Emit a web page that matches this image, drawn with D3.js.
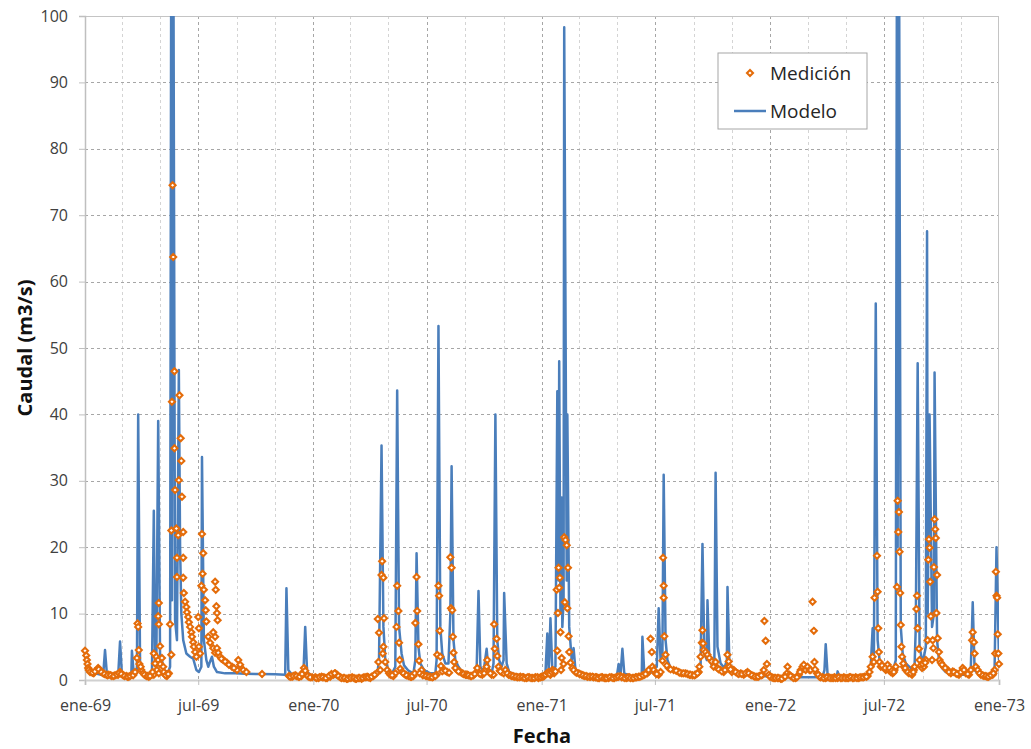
<!DOCTYPE html>
<html lang="es">
<head>
<meta charset="utf-8">
<script src="https://cdn.jsdelivr.net/npm/d3@7"></script>
<style>
  body { margin: 0; background: #fff; }
  svg { display: block; font-family: "Open Sans", sans-serif; }
</style>
</head>
<body>
<svg id="chart"></svg>
<script>
// Caudal diario (m3/s). Cada par es [día contado desde el 1-ene-1969, caudal]
const inicio = new Date(1969, 0, 1);
const fin = new Date(1973, 0, 1);

const modelo1969 = [
  [0,2.2],[5,1.6],[11,1.1],[21,0.9],[29,0.7],[32,4.5],[35,0.9],[43,0.7],[53,0.6],[56,5.8],
  [59,0.8],[67,0.6],[74,0.6],[75,4.4],[78,0.8],[83,1.0],[85,40],[88,2.5],[93,1.2],[101,0.9],
  [107,1.0],[110,25.5],[112,3.0],[114,2.0],[117,39],[120,3.5],[123,3.0],[126,1.5],[133,1.2],
  [136,2.0],[138,120],[139,12],[141,120],[144,9],[147,6],[150,46.7],[152,20],[154,10],[157,6],
  [162,4.0],[168,3.5],[173,3.2],[178,1.5],[182,1.2],[186,2.0],[187,33.6],[190,6],[194,3],
  [197,2],[200,2.8],[203,3.5],[206,2.0],[211,1.2],[224,1.0],[240,1.0],[256,0.95],[280,0.9],
  [304,0.85],[320,0.8],[322,13.8],[325,1.5],[331,0.8],[341,0.6],[349,0.6],[352,8.0],[355,1.2],
  [363,0.6]
];
const modelo1970 = [
  [365,0.6],[376,0.5],[392,0.5],[408,0.4],[424,0.4],[440,0.4],[456,0.5],[467,0.8],[470,3],
  [474,35.3],[477,8],[480,3],[485,1.5],[491,1.0],[496,2],[499,43.6],[502,8],[506,4],[510,2.2],
  [517,1.4],[525,1.0],[528,3],[530,19.1],[533,5],[536,2.5],[542,1.5],[552,1.0],[560,1.0],
  [562,3],[565,53.3],[568,8],[571,4],[576,2.5],[581,2.5],[584,10],[586,32.2],[589,6],[592,3],
  [597,2],[603,1.2],[613,0.9],[622,0.8],[626,1.5],[629,13.4],[632,2],[637,1.2],[642,4.7],
  [645,1.5],[650,1.0],[653,2.5],[656,40],[659,6],[662,3],[666,2],[669,3],[670,13.1],[674,2.5],
  [678,1.2],[688,0.8],[704,0.6],[720,0.5],[733,0.5]
];
const modelo1971 = [
  [736,1],[739,7],[741,1.5],[742,3],[744,9.3],[747,1.5],[752,2],[755,43.5],[757,15],[758,48],
  [760,10],[762,27.5],[763,8],[765,12],[766,98.3],[770,15],[771,40],[774,8],[778,3],[781,4.8],
  [784,1.5],[792,0.8],[808,0.5],[824,0.4],[840,0.4],[850,0.5],[853,2.4],[856,0.8],[859,4.7],
  [862,1.0],[872,0.6],[885,0.6],[890,1.0],[891,6.5],[894,1.0],[901,0.8],[907,1.5],[914,2],
  [917,10.8],[920,3],[923,4],[925,30.9],[928,6],[931,3],[936,1.8],[944,1.2],[960,0.8],
  [976,0.8],[984,2],[987,20.5],[990,4],[994,3],[995,12],[998,3],[1003,2],[1006,3],[1008,31.2],
  [1011,5],[1016,2.5],[1022,1.8],[1026,3],[1027,14],[1030,2.5],[1037,1.2],[1048,0.9],
  [1064,0.7],[1080,0.6],[1098,0.5]
];
const modelo1972 = [
  [1112,0.4],[1144,0.4],[1168,0.4],[1179,0.5],[1182,1.5],[1184,5.4],[1187,0.8],[1195,0.5],
  [1202,0.6],[1203,1.3],[1206,0.5],[1224,0.4],[1240,0.4],[1253,0.6],[1256,2],[1259,7.8],
  [1261,3],[1264,56.7],[1267,6],[1270,3],[1275,2],[1283,1.5],[1291,1.2],[1296,3],[1298,120],
  [1299,20],[1301,120],[1304,8],[1307,4],[1312,2.5],[1320,1.8],[1326,2],[1328,8],[1331,47.7],
  [1334,5],[1338,3],[1341,3.5],[1344,5],[1346,67.6],[1347,10],[1350,40],[1354,8],[1357,10],
  [1358,46.3],[1362,6],[1365,3],[1370,1.8],[1376,1.2],[1387,0.9],[1400,0.8],[1413,0.8],
  [1416,2],[1419,11.7],[1422,1.5],[1429,0.8],[1440,0.6],[1451,0.6],[1454,2],[1457,20],[1461,3]
];

const medicion1969 = [
  [0,4.4],[2,3.7],[3,3.0],[4,2.4],[5,1.8],[6,1.5],[10,1.2],[14,1.0],[19,1.5],[21,1.8],[24,1.5],
  [29,1.0],[34,0.8],[38,0.8],[43,0.6],[48,0.7],[53,0.8],[56,1.2],[61,0.7],[66,0.6],[70,0.5],
  [75,0.8],[78,1.0],[83,3.3],[84,8.5],[85,8.0],[86,4.5],[87,2.4],[90,1.5],[93,1.0],[98,0.6],
  [102,0.5],[107,0.8],[110,4.0],[110,0.8],[114,3.5],[115,1.5],[117,3.0],[118,11.6],[117,9.6],
  [118,8.4],[120,5.1],[118,1.0],[120,2.4],[123,3.3],[125,2.0],[128,0.8],[131,0.6],[134,1.0],
  [136,8.4],[138,3.8],[138,22.5],[139,41.9],[140,74.5],[141,63.7],[143,46.5],[143,34.9],
  [144,28.6],[146,22.8],[147,18.4],[147,15.5],[149,21.8],[150,30.1],[151,42.9],[153,36.4],
  [154,33.0],[155,27.6],[157,22.3],[157,18.4],[157,15.4],[158,13.1],[160,11.8],[162,11.0],
  [163,10.2],[165,9.5],[166,8.7],[168,8.0],[170,7.2],[171,6.5],[173,5.7],[174,5.0],[176,4.2],
  [178,3.5],[181,9.5],[182,7.8],[182,5.0],[184,4.0],[186,14.2],[187,22.0],[189,19.1],
  [188,16.0],[190,13.6],[192,12.0],[193,10.5],[194,8.8],[197,6.5],[200,5.6],[205,4.8],
  [205,7.2],[208,6.5],[208,14.8],[209,13.6],[210,11.1],[211,10.1],[212,9.0],[208,4.1],
  [211,4.8],[213,4.1],[216,3.5],[221,3.0],[227,2.6],[235,2.0],[243,1.5],[245,3.0],[248,2.3],
  [253,1.5],[258,1.2],[283,0.9],[326,0.6],[331,0.5],[336,0.7],[341,0.5],[346,0.6],[349,1.2],
  [350,1.8],[354,0.8],[358,0.5],[363,0.4],
  [8,1.2],[12,1.1],[16,1.3],[22,1.6],[26,1.2],[31,0.9],[36,0.7],[41,0.7],[46,0.6],[51,0.8],
  [54,1.0],[58,0.9],[63,0.6],[68,0.5],[72,0.6],[77,0.7],[80,1.2],[89,2.0],[95,0.8],[100,0.6],
  [104,0.6],[108,1.2],[112,2.5],[126,1.2],[129,0.7],[133,0.9],[218,3.2],[224,2.8],[230,2.3],
  [238,1.8],[328,0.5],[333,0.6],[338,0.6],[343,0.5],[347,0.9],[352,1.4],[356,0.6],[360,0.4]
];
const medicion1970 = [
  [368,0.4],[373,0.3],[378,0.5],[382,0.4],[387,0.3],[392,0.5],[397,0.8],[400,1.0],[403,0.8],
  [408,0.4],[413,0.3],[418,0.2],[422,0.3],[427,0.4],[432,0.2],[437,0.3],[442,0.2],[446,0.4],
  [451,0.5],[456,0.3],[461,0.6],[466,1.0],[469,2.7],[468,9.2],[470,7.1],[472,1.5],[474,15.8],
  [475,17.9],[476,4.0],[477,15.4],[478,9.3],[477,5.0],[480,2.7],[483,1.5],[486,1.0],[490,0.8],
  [493,0.6],[496,1.0],[498,8.0],[499,14.2],[501,10.4],[502,5.6],[503,3.0],[504,1.7],[507,1.2],
  [512,0.8],[517,0.6],[522,0.5],[525,0.6],[528,8.6],[530,15.5],[531,10.4],[533,5.4],[534,2.9],
  [538,1.5],[542,0.8],[547,0.6],[552,0.5],[557,0.5],[562,0.8],[563,3.8],[565,14.2],[566,12.7],
  [567,7.4],[568,3.5],[569,2.1],[573,1.5],[579,1.2],[584,18.5],[586,16.9],[585,10.8],
  [587,10.5],[588,6.5],[589,4.1],[590,2.7],[595,1.5],[600,1.2],[603,1.0],[608,0.8],[611,0.8],
  [616,0.6],[621,0.7],[626,1.2],[627,1.8],[630,1.0],[635,0.8],[640,1.5],[642,2.0],[643,3.0],
  [646,1.2],[650,0.8],[654,8.4],[655,4.7],[653,0.8],[658,6.2],[659,3.6],[661,2.0],[666,1.2],
  [669,1.0],[672,1.5],[677,0.8],[682,0.6],[686,0.5],[691,0.4],[696,0.5],[701,0.4],[706,0.3],
  [710,0.4],[715,0.3],[720,0.4],[725,0.3],[730,0.5],
  [370,0.3],[375,0.4],[380,0.4],[385,0.3],[390,0.6],[394,0.9],[399,1.0],[405,0.6],[410,0.3],
  [415,0.3],[420,0.2],[425,0.3],[430,0.3],[434,0.2],[439,0.3],[444,0.3],[449,0.4],[453,0.4],
  [458,0.5],[463,0.8],[488,0.8],[491,0.7],[509,1.0],[514,0.7],[520,0.5],[523,0.6],[527,1.0],
  [535,1.0],[540,0.7],[545,0.6],[550,0.5],[555,0.4],[560,0.6],[571,1.3],[576,1.4],[582,1.1],
  [592,1.8],[597,1.3],[605,0.9],[610,0.8],[613,0.7],[618,0.6],[623,0.9],[632,0.9],[638,1.0],
  [648,1.0],[663,1.4],[664,1.3],[675,1.0],[680,0.7],[684,0.6],[689,0.5],[694,0.4],[699,0.4],
  [703,0.3],[708,0.4],[713,0.3],[718,0.3],[723,0.4],[728,0.4],[732,0.5]
];
const medicion1971 = [
  [734,0.6],[738,1.0],[741,1.2],[744,0.8],[747,1.5],[750,1.0],[755,4.4],[754,13.6],[757,16.9],
  [756,10.1],[758,13.9],[759,15.4],[760,7.2],[761,1.5],[762,3.3],[765,2.4],[766,21.5],
  [767,11.7],[768,21.1],[770,20.3],[771,10.8],[772,16.9],[773,6.6],[774,4.2],[776,2.6],
  [779,1.8],[784,1.2],[789,1.0],[794,0.8],[798,0.6],[803,0.5],[808,0.5],[813,0.4],[818,0.4],
  [822,0.3],[827,0.4],[832,0.3],[837,0.3],[842,0.4],[846,0.3],[851,0.5],[856,0.6],[861,0.4],
  [866,0.3],[870,0.4],[875,0.3],[880,0.4],[885,0.5],[890,0.6],[894,0.8],[899,1.0],[901,1.5],
  [904,6.2],[906,4.2],[907,2.0],[909,1.5],[912,1.0],[917,0.8],[920,1.2],[923,2.9],[924,18.4],
  [925,14.2],[925,12.4],[926,6.6],[928,3.8],[933,1.8],[941,1.5],[949,1.2],[954,1.0],[960,1.0],
  [966,0.8],[971,0.7],[976,0.8],[981,1.2],[982,2.0],[984,3.5],[986,5.6],[987,7.5],[988,5.5],
  [989,4.5],[992,4.2],[995,3.8],[998,3.3],[1002,2.8],[1005,2.0],[1008,2.7],[1011,1.8],
  [1016,1.5],[1021,1.2],[1026,1.8],[1027,3.8],[1029,2.8],[1030,2.0],[1034,1.2],[1037,1.5],
  [1043,1.0],[1048,1.0],[1053,0.8],[1059,1.2],[1064,0.8],[1069,0.6],[1074,0.5],[1078,0.6],
  [1083,0.8],[1085,1.5],[1086,8.9],[1088,5.9],[1090,2.4],[1093,0.8],[1098,0.4],
  [736,0.8],[740,1.0],[743,0.9],[746,1.2],[749,1.4],[752,1.3],[781,1.5],[786,1.1],[791,0.9],
  [796,0.7],[801,0.6],[806,0.5],[811,0.5],[816,0.4],[820,0.3],[825,0.4],[830,0.3],[834,0.3],
  [839,0.4],[844,0.3],[849,0.4],[853,0.5],[858,0.4],[863,0.3],[868,0.4],[872,0.3],[877,0.3],
  [882,0.4],[887,0.5],[892,0.7],[896,0.9],[914,0.9],[930,2.2],[936,1.6],[945,1.4],[951,1.1],
  [957,1.0],[963,0.9],[968,0.8],[974,0.7],[979,1.0],[1013,1.6],[1018,1.3],[1023,1.5],
  [1032,1.6],[1040,1.2],[1045,0.9],[1050,0.9],[1056,1.0],[1061,1.0],[1066,0.7],[1071,0.5],
  [1076,0.5],[1081,0.7],[1095,0.5]
];
const medicion1972 = [
  [1102,0.3],[1107,0.3],[1112,0.2],[1117,0.4],[1122,1.0],[1123,2.0],[1126,0.8],[1131,0.4],
  [1136,0.3],[1141,0.8],[1144,1.5],[1147,2.0],[1149,2.3],[1152,1.5],[1155,2.0],[1158,1.5],
  [1160,1.5],[1163,11.8],[1165,7.4],[1166,2.7],[1170,1.0],[1174,0.5],[1179,0.4],[1184,0.3],
  [1189,0.4],[1194,0.3],[1198,0.4],[1203,0.3],[1208,0.3],[1213,0.4],[1218,0.3],[1222,0.4],
  [1227,0.3],[1232,0.4],[1237,0.3],[1242,0.4],[1246,0.5],[1251,0.6],[1254,1.2],[1256,2.0],
  [1259,3.5],[1261,2.7],[1262,12.4],[1266,18.7],[1267,13.3],[1268,7.8],[1269,4.2],[1270,2.7],
  [1272,2.0],[1277,2.0],[1280,1.5],[1283,2.3],[1285,1.5],[1288,1.2],[1291,1.0],[1294,1.5],
  [1296,2.0],[1298,14.0],[1299,27.0],[1300,22.3],[1301,25.3],[1302,19.3],[1303,13.1],
  [1304,8.3],[1305,5.0],[1306,3.5],[1309,2.0],[1312,1.5],[1317,1.0],[1322,0.8],[1325,1.5],
  [1326,2.0],[1330,12.7],[1329,10.7],[1331,7.8],[1333,4.7],[1334,3.0],[1336,2.2],[1338,1.8],
  [1341,2.0],[1344,3.0],[1347,6.0],[1349,21.2],[1348,18.1],[1350,19.9],[1351,14.8],[1352,9.6],
  [1355,6.0],[1356,4.8],[1354,3.0],[1357,17.0],[1358,24.2],[1359,22.7],[1360,21.4],[1362,15.8],
  [1361,10.1],[1363,6.3],[1365,4.2],[1366,3.0],[1368,2.6],[1373,2.0],[1379,1.5],[1384,1.0],
  [1387,1.3],[1392,1.0],[1397,0.8],[1403,1.8],[1408,1.0],[1413,0.8],[1416,1.5],[1419,7.2],
  [1418,6.0],[1421,5.7],[1422,4.0],[1424,2.0],[1427,1.5],[1432,0.8],[1437,0.6],[1442,0.5],
  [1446,0.6],[1451,0.8],[1454,1.5],[1455,4.0],[1456,16.3],[1457,12.7],[1458,12.4],[1459,6.9],
  [1460,4.0],[1461,2.4],
  [1100,0.3],[1104,0.3],[1109,0.3],[1114,0.2],[1119,0.5],[1128,0.6],[1133,0.3],[1138,0.4],
  [1143,1.2],[1167,1.6],[1172,0.8],[1176,0.4],[1181,0.3],[1186,0.4],[1191,0.3],[1196,0.3],
  [1200,0.3],[1205,0.4],[1210,0.3],[1215,0.3],[1220,0.3],[1224,0.4],[1229,0.3],[1234,0.3],
  [1239,0.4],[1244,0.4],[1249,0.5],[1274,2.2],[1279,1.8],[1286,1.8],[1290,1.4],[1293,1.2],
  [1308,2.5],[1311,1.8],[1315,1.2],[1320,1.0],[1324,1.2],[1339,2.4],[1343,2.6],[1370,2.3],
  [1375,1.8],[1381,1.2],[1389,1.2],[1394,0.9],[1400,1.2],[1405,1.5],[1411,0.9],[1430,1.0],
  [1435,0.7],[1440,0.6],[1444,0.5],[1448,0.7],[1452,1.0]
];

const yTicks = [0, 10, 20, 30, 40, 50, 60, 70, 80, 90, 100];
const meses = ['ene','feb','mar','abr','may','jun','jul','ago','sep','oct','nov','dic'];

const modelo = [...modelo1969, ...modelo1970, ...modelo1971, ...modelo1972];
const medicion = [...medicion1969, ...medicion1970, ...medicion1971, ...medicion1972];

const config = {
  width: 1031, height: 749,
  margin: {top: 16, right: 32, bottom: 69, left: 85},
  azul: '#4a7ebb', naranja: '#e46c0a'
};
const width = config.width - config.margin.left - config.margin.right;
const height = config.height - config.margin.top - config.margin.bottom;

const svg = d3.select('#chart')
    .attr('width', config.width)
    .attr('height', config.height);

const chart = svg.append('g')
    .attr('transform', `translate(${config.margin.left},${config.margin.top})`);

const fecha = d => d3.timeDay.offset(inicio, d[0]);

const xScale = d3.scaleTime().domain([inicio, fin]).range([0, width]);
const yScale = d3.scaleLinear().domain([0, 100]).range([height, 0]);

chart.append('defs').append('clipPath').attr('id', 'area-grafico')
  .append('rect').attr('width', width).attr('height', height);

// rejilla vertical: cada 2 meses, más oscura cada 6
const mesesGrid = d3.timeMonth.every(2).range(inicio, fin).filter(d => +d !== +inicio);
chart.append('g').selectAll('line')
  .data(mesesGrid)
  .join('line')
    .attr('x1', d => Math.round(xScale(d)) + 0.5)
    .attr('x2', d => Math.round(xScale(d)) + 0.5)
    .attr('y1', 0).attr('y2', height)
    .attr('stroke', d => d.getMonth() % 6 === 0 ? '#a6a6a6' : '#d4d4d4')
    .attr('stroke-dasharray', '3,3');

// rejilla horizontal
chart.append('g').selectAll('line')
  .data(yTicks.filter(v => v > 0 && v < 100))
  .join('line')
    .attr('x1', 0).attr('x2', width)
    .attr('y1', d => Math.round(yScale(d)) + 0.5)
    .attr('y2', d => Math.round(yScale(d)) + 0.5)
    .attr('stroke', '#a6a6a6')
    .attr('stroke-dasharray', '3,3');

// marco del área de trazado
chart.append('line').attr('x1', 0).attr('x2', width).attr('y1', 0.5).attr('y2', 0.5)
  .attr('stroke', '#c4c4c4');
chart.append('line').attr('x1', width - 0.5).attr('x2', width - 0.5).attr('y1', 0).attr('y2', height)
  .attr('stroke', '#c4c4c4');

// ejes
const yAxis = d3.axisLeft(yScale).tickValues(yTicks).tickSize(6).tickPadding(11);
const gy = chart.append('g').call(yAxis);
gy.select('.domain').attr('stroke', '#bfbfbf').attr('stroke-width', 1.5);
gy.selectAll('.tick line').attr('stroke', '#bfbfbf');
gy.selectAll('.tick text').attr('fill', '#404040')
  .attr('font-size', '16px').attr('font-family', '"Open Sans", sans-serif');

const xAxis = d3.axisBottom(xScale)
  .tickValues(d3.timeMonth.every(6).range(inicio, d3.timeDay.offset(fin, 1)))
  .tickFormat(d => `${meses[d.getMonth()]}-${String(d.getFullYear()).slice(2)}`)
  .tickSize(5).tickPadding(15);
const gx = chart.append('g').attr('transform', `translate(0,${height})`).call(xAxis);
gx.select('.domain').attr('stroke', '#d0d0d0').attr('stroke-width', 2);
gx.selectAll('.tick line').attr('stroke', '#bfbfbf');
gx.selectAll('.tick text').attr('fill', '#404040')
  .attr('font-size', '16px').attr('font-family', '"Open Sans", sans-serif');

// series
const datos = chart.append('g').attr('clip-path', 'url(#area-grafico)');

const linea = d3.line()
  .x(d => xScale(fecha(d)))
  .y(d => yScale(d[1]));

datos.append('path')
  .datum(modelo)
  .attr('fill', 'none')
  .attr('stroke', config.azul)
  .attr('stroke-width', 2.5)
  .attr('stroke-linejoin', 'round')
  .attr('d', linea);

const rombo = r => `M0,${-r}L${r},0L0,${r}L${-r},0Z`;

chart.append('g').selectAll('path')
  .data(medicion)
  .join('path')
    .attr('transform', d => `translate(${xScale(fecha(d))},${yScale(d[1])})`)
    .attr('d', rombo(3.0))
    .attr('fill', '#fff')
    .attr('stroke', config.naranja)
    .attr('stroke-width', 2.1);

// títulos de ejes
svg.append('text')
  .attr('transform', `translate(32,${config.margin.top + height / 2}) rotate(-90)`)
  .attr('text-anchor', 'middle')
  .attr('font-size', '20px').attr('font-weight', 'bold').attr('fill', '#111')
  .text('Caudal (m3/s)');

svg.append('text')
  .attr('x', config.margin.left + width / 2).attr('y', 743)
  .attr('text-anchor', 'middle')
  .attr('font-size', '20px').attr('font-weight', 'bold').attr('fill', '#111')
  .text('Fecha');

// leyenda
const leyenda = svg.append('g').attr('transform', 'translate(718,53)');
leyenda.append('rect')
  .attr('width', 149).attr('height', 76)
  .attr('fill', '#fff').attr('stroke', '#a6a6a6');
leyenda.append('path')
  .attr('transform', 'translate(32,20)')
  .attr('d', rombo(3.0))
  .attr('fill', '#fff').attr('stroke', config.naranja).attr('stroke-width', 2.1);
leyenda.append('line')
  .attr('x1', 16).attr('x2', 48).attr('y1', 58).attr('y2', 58)
  .attr('stroke', config.azul).attr('stroke-width', 2.5);
leyenda.selectAll('text.item')
  .data(['Medición', 'Modelo'])
  .join('text')
    .attr('class', 'item')
    .attr('x', 52).attr('y', (d, i) => 20 + i * 38)
    .attr('dy', '0.35em')
    .attr('font-size', '19px').attr('fill', '#262626')
    .text(d => d);
</script>
</body>
</html>
